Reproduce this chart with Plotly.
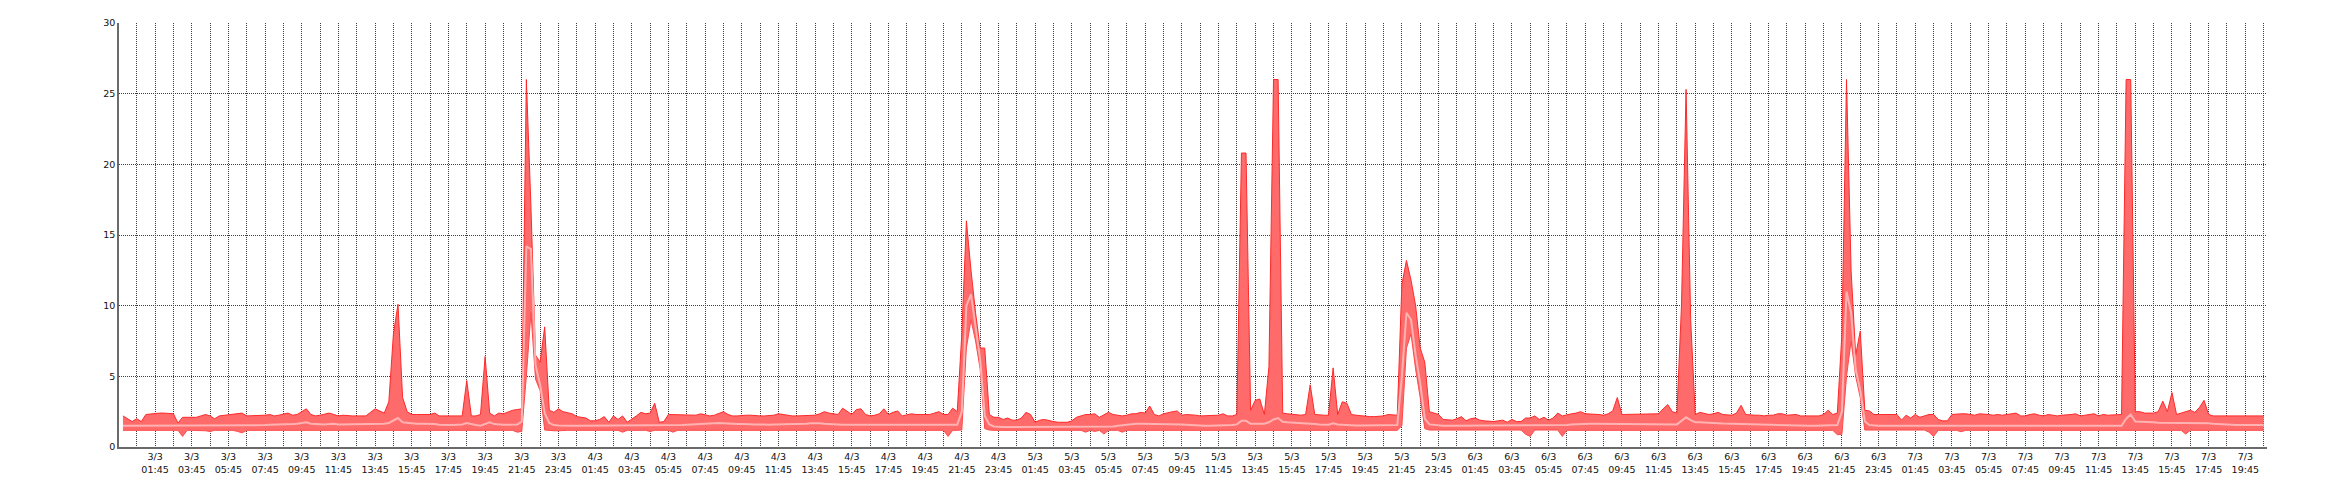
import pandas as pd
import plotly.graph_objects as go

# 15-minute samples from 3/3 00:00 to 7/3 20:45 (rows of 12 = 3 hours)
start_time = "2024-03-03 00:00"
n_points = 468

max_vals = [
    2.2, 2.0, 1.8, 2.0, 1.8, 2.3, 2.35, 2.35, 2.4, 2.4, 2.4, 2.35,
    1.7, 2.1, 2.1, 2.1, 2.1, 2.2, 2.3, 2.2, 2.0, 2.2, 2.25, 2.25,
    2.3, 2.35, 2.4, 2.2, 2.2, 2.2, 2.2, 2.25, 2.3, 2.2, 2.25, 2.3,
    2.4, 2.25, 2.3, 2.5, 2.7, 2.3, 2.2, 2.25, 2.3, 2.4, 2.3, 2.2,
    2.25, 2.2, 2.2, 2.2, 2.2, 2.2, 2.45, 2.7, 2.55, 2.4, 3.2, 8.0,
    10.1, 3.5, 2.5, 2.3, 2.3, 2.3, 2.3, 2.3, 2.4, 2.2, 2.2, 2.2,
    2.2, 2.2, 2.2, 4.7, 2.2, 2.2, 2.3, 6.4, 2.4, 2.2, 2.4, 2.35,
    2.5, 2.6, 2.65, 2.7, 26.0, 17.0, 6.5, 6.0, 8.5, 2.6, 2.45, 2.7,
    2.5, 2.45, 2.35, 2.15, 2.1, 2.05, 1.85, 1.85, 1.95, 2.15, 1.75, 2.2,
    1.95, 2.2, 1.75, 1.95, 2.2, 2.45, 2.35, 2.4, 3.1, 1.75, 1.8, 2.3,
    2.3, 2.3, 2.25, 2.25, 2.25, 2.25, 2.35, 2.3, 2.2, 2.25, 2.35, 2.5,
    2.3, 2.2, 2.2, 2.25, 2.25, 2.25, 2.2, 2.2, 2.2, 2.2, 2.25, 2.35,
    2.3, 2.2, 2.2, 2.2, 2.2, 2.2, 2.2, 2.25, 2.35, 2.5, 2.4, 2.35,
    2.3, 2.75, 2.5, 2.3, 2.65, 2.7, 2.3, 2.2, 2.25, 2.35, 2.7, 2.3,
    2.45, 2.55, 2.2, 2.3, 2.35, 2.3, 2.3, 2.3, 2.3, 2.4, 2.5, 2.3,
    2.3, 2.75, 2.5, 8.0, 16.0, 12.5, 9.5, 7.0, 7.0, 2.3, 2.1, 2.1,
    1.95, 2.05, 1.9, 1.9, 2.05, 2.45, 2.3, 1.75, 1.9, 1.95, 1.85, 1.8,
    1.75, 1.75, 1.75, 1.85, 2.1, 2.2, 2.3, 2.3, 2.35, 2.1, 2.3, 2.45,
    2.3, 2.25, 2.2, 2.25, 2.35, 2.35, 2.45, 2.4, 2.9, 2.3, 2.2, 2.35,
    2.45, 2.5, 2.55, 2.25, 2.3, 2.3, 2.25, 2.2, 2.2, 2.2, 2.2, 2.25,
    2.35, 2.2, 2.2, 2.3, 20.8, 20.8, 2.6, 3.3, 3.4, 2.3, 5.7, 26.0,
    26.0, 2.4, 2.35, 2.3, 2.25, 2.25, 2.3, 4.4, 2.3, 2.25, 2.25, 2.25,
    5.6, 2.3, 3.2, 3.1, 2.3, 2.25, 2.2, 2.2, 2.15, 2.15, 2.15, 2.2,
    2.3, 2.25, 2.25, 11.5, 13.2, 11.8, 10.0, 7.0, 6.0, 2.5, 2.4, 2.3,
    1.95, 1.9, 1.9, 2.0, 2.15, 1.85, 2.0, 2.05, 1.9, 1.85, 1.8, 1.8,
    1.85, 1.9, 1.75, 1.95, 1.8, 1.8, 2.05, 2.05, 2.2, 1.95, 2.1, 1.9,
    2.05, 2.4, 2.2, 2.3, 2.35, 2.4, 2.5, 2.35, 2.35, 2.35, 2.3, 2.25,
    2.35, 2.55, 3.5, 2.3, 2.3, 2.3, 2.3, 2.3, 2.3, 2.3, 2.3, 2.35,
    2.7, 3.0, 2.5, 2.4, 10.0, 25.3, 9.0, 2.3, 2.45, 2.35, 2.3, 2.35,
    2.45, 2.3, 2.3, 2.25, 2.4, 2.95, 2.3, 2.25, 2.25, 2.25, 2.2, 2.25,
    2.25, 2.35, 2.35, 2.25, 2.25, 2.3, 2.2, 2.2, 2.2, 2.2, 2.2, 2.3,
    2.6, 2.3, 2.4, 8.0, 26.0, 12.5, 6.5, 8.2, 2.6, 2.55, 2.3, 2.3,
    2.3, 2.35, 2.35, 2.3, 1.9, 2.25, 2.05, 2.3, 2.1, 2.2, 2.3, 2.3,
    1.95, 1.85, 1.85, 2.3, 2.35, 2.35, 2.35, 2.3, 2.25, 2.35, 2.35, 2.3,
    2.25, 2.3, 2.25, 2.3, 2.3, 2.4, 2.2, 2.2, 2.3, 2.35, 2.25, 2.2,
    2.3, 2.25, 2.2, 2.25, 2.25, 2.3, 2.35, 2.2, 2.25, 2.3, 2.35, 2.2,
    2.3, 2.25, 2.25, 2.25, 2.3, 26.0, 26.0, 2.5, 2.5, 2.4, 2.4, 2.4,
    2.5, 3.25, 2.5, 3.85, 2.3, 2.4, 2.5, 2.6, 2.45, 2.8, 3.3, 2.3,
    2.2, 2.2, 2.2, 2.2, 2.2, 2.2, 2.2, 2.2, 2.2, 2.2, 2.2, 2.2,
]

avg_vals = [
    1.5, 1.5, 1.5, 1.5, 1.5, 1.5, 1.5, 1.5, 1.5, 1.5, 1.5, 1.5,
    1.5, 1.5, 1.5, 1.5, 1.5, 1.5, 1.5, 1.5, 1.52, 1.55, 1.55, 1.55,
    1.55, 1.55, 1.55, 1.55, 1.55, 1.55, 1.55, 1.55, 1.58, 1.58, 1.6, 1.6,
    1.62, 1.62, 1.65, 1.7, 1.75, 1.65, 1.62, 1.6, 1.6, 1.62, 1.65, 1.6,
    1.6, 1.6, 1.6, 1.6, 1.6, 1.6, 1.62, 1.62, 1.6, 1.65, 1.7, 1.9,
    2.05, 1.75, 1.7, 1.68, 1.65, 1.65, 1.65, 1.65, 1.62, 1.58, 1.55, 1.55,
    1.55, 1.55, 1.6, 1.7, 1.6, 1.55, 1.5, 1.6, 1.75, 1.62, 1.58, 1.58,
    1.58, 1.58, 1.6, 1.8, 14.2, 14.0, 5.8, 4.4, 2.4, 1.7, 1.55, 1.52,
    1.5, 1.5, 1.5, 1.5, 1.5, 1.5, 1.5, 1.5, 1.5, 1.5, 1.5, 1.5,
    1.5, 1.5, 1.5, 1.5, 1.5, 1.5, 1.5, 1.5, 1.5, 1.5, 1.5, 1.5,
    1.5, 1.52, 1.55, 1.58, 1.6, 1.6, 1.62, 1.65, 1.65, 1.68, 1.7, 1.68,
    1.65, 1.62, 1.62, 1.62, 1.6, 1.6, 1.6, 1.6, 1.58, 1.58, 1.6, 1.6,
    1.6, 1.62, 1.62, 1.62, 1.62, 1.65, 1.68, 1.7, 1.68, 1.65, 1.62, 1.6,
    1.58, 1.58, 1.58, 1.58, 1.58, 1.58, 1.58, 1.58, 1.58, 1.58, 1.58, 1.58,
    1.58, 1.58, 1.58, 1.58, 1.58, 1.58, 1.58, 1.58, 1.58, 1.58, 1.58, 1.58,
    1.58, 1.58, 1.58, 2.5, 10.0, 10.8, 8.5, 6.2, 2.2, 1.6, 1.45, 1.42,
    1.42, 1.42, 1.42, 1.42, 1.42, 1.42, 1.42, 1.42, 1.42, 1.42, 1.42, 1.42,
    1.42, 1.42, 1.42, 1.42, 1.42, 1.42, 1.42, 1.42, 1.42, 1.42, 1.42, 1.42,
    1.45, 1.5, 1.55, 1.6, 1.62, 1.65, 1.65, 1.65, 1.65, 1.65, 1.65, 1.65,
    1.65, 1.65, 1.62, 1.6, 1.58, 1.55, 1.52, 1.5, 1.5, 1.5, 1.5, 1.5,
    1.5, 1.5, 1.55, 1.6, 1.85, 1.85, 1.65, 1.65, 1.65, 1.65, 1.75, 1.95,
    2.05, 1.78, 1.75, 1.72, 1.7, 1.68, 1.65, 1.65, 1.62, 1.6, 1.6, 1.58,
    1.68, 1.6, 1.58, 1.55, 1.55, 1.53, 1.53, 1.53, 1.53, 1.53, 1.53, 1.53,
    1.53, 1.55, 1.55, 5.0, 9.5, 9.0, 6.5, 4.5, 2.0, 1.6, 1.55, 1.55,
    1.5, 1.5, 1.5, 1.5, 1.5, 1.5, 1.5, 1.5, 1.5, 1.5, 1.5, 1.5,
    1.5, 1.5, 1.5, 1.5, 1.5, 1.5, 1.5, 1.5, 1.5, 1.5, 1.5, 1.5,
    1.5, 1.5, 1.5, 1.55, 1.6, 1.62, 1.65, 1.65, 1.65, 1.65, 1.65, 1.65,
    1.65, 1.65, 1.65, 1.65, 1.65, 1.65, 1.65, 1.65, 1.65, 1.65, 1.65, 1.65,
    1.65, 1.62, 1.6, 1.6, 1.85, 2.1, 1.9, 1.75, 1.75, 1.72, 1.7, 1.7,
    1.68, 1.66, 1.65, 1.64, 1.62, 1.6, 1.6, 1.58, 1.58, 1.58, 1.56, 1.56,
    1.55, 1.55, 1.53, 1.52, 1.5, 1.5, 1.5, 1.5, 1.5, 1.5, 1.5, 1.5,
    1.5, 1.5, 1.55, 2.5, 11.0, 9.5, 5.5, 4.0, 1.8, 1.55, 1.5, 1.5,
    1.5, 1.5, 1.5, 1.5, 1.5, 1.5, 1.5, 1.5, 1.5, 1.5, 1.5, 1.5,
    1.5, 1.5, 1.5, 1.5, 1.5, 1.5, 1.5, 1.5, 1.5, 1.5, 1.5, 1.5,
    1.5, 1.52, 1.55, 1.55, 1.55, 1.55, 1.55, 1.55, 1.55, 1.55, 1.55, 1.55,
    1.55, 1.55, 1.55, 1.55, 1.52, 1.5, 1.5, 1.5, 1.5, 1.5, 1.5, 1.5,
    1.5, 1.5, 1.5, 1.5, 1.5, 2.0, 2.3, 1.8, 1.8, 1.8, 1.78, 1.75,
    1.72, 1.72, 1.72, 1.72, 1.7, 1.7, 1.7, 1.7, 1.7, 1.7, 1.7, 1.68,
    1.65, 1.62, 1.6, 1.58, 1.56, 1.55, 1.55, 1.55, 1.55, 1.55, 1.55, 1.55,
]

min_vals = [
    1.18, 1.18, 1.18, 1.18, 1.18, 1.18, 1.18, 1.18, 1.18, 1.18, 1.18, 1.18,
    1.18, 0.75, 1.18, 1.18, 1.18, 1.18, 1.15, 1.1, 1.18, 1.18, 1.18, 1.18,
    1.18, 1.1, 1.0, 1.18, 1.18, 1.18, 1.18, 1.18, 1.18, 1.18, 1.18, 1.18,
    1.18, 1.18, 1.18, 1.18, 1.18, 1.18, 1.18, 1.18, 1.18, 1.18, 1.18, 1.18,
    1.18, 1.18, 1.18, 1.18, 1.18, 1.18, 1.18, 1.18, 1.18, 1.18, 1.18, 1.18,
    1.18, 1.18, 1.18, 1.18, 1.18, 1.18, 1.18, 1.18, 1.18, 1.18, 1.18, 1.18,
    1.18, 1.18, 1.18, 1.18, 1.18, 1.18, 1.18, 1.18, 1.18, 1.18, 1.18, 1.18,
    1.18, 1.18, 1.05, 1.1, 5.0, 9.5, 4.8, 4.0, 1.2, 1.15, 1.15, 1.15,
    1.18, 1.18, 1.18, 1.18, 1.18, 1.18, 1.18, 1.18, 1.18, 1.18, 1.18, 1.18,
    1.18, 1.05, 1.18, 1.18, 1.18, 1.18, 1.18, 1.1, 1.18, 1.18, 1.18, 1.18,
    1.05, 1.18, 1.18, 1.18, 1.18, 1.18, 1.18, 1.18, 1.18, 1.18, 1.18, 1.18,
    1.18, 1.18, 1.18, 1.18, 1.18, 1.18, 1.18, 1.18, 1.18, 1.18, 1.18, 1.18,
    1.18, 1.18, 1.18, 1.18, 1.18, 1.18, 1.18, 1.18, 1.18, 1.18, 1.18, 1.18,
    1.18, 1.18, 1.18, 1.18, 1.18, 1.18, 1.18, 1.18, 1.18, 1.18, 1.18, 1.18,
    1.18, 1.18, 1.18, 1.18, 1.18, 1.18, 1.18, 1.18, 1.18, 1.18, 1.18, 1.18,
    0.75, 1.18, 1.18, 1.2, 7.0, 9.0, 7.5, 5.5, 1.3, 1.2, 1.18, 1.18,
    1.18, 1.18, 1.18, 1.18, 1.18, 1.18, 1.18, 1.18, 1.18, 1.18, 1.18, 1.18,
    1.18, 1.18, 1.18, 1.18, 1.18, 1.18, 1.05, 1.18, 1.1, 1.18, 0.92, 1.18,
    1.18, 1.18, 1.05, 1.18, 1.18, 1.18, 1.18, 1.18, 1.18, 1.18, 1.18, 1.18,
    1.18, 1.18, 1.18, 1.18, 1.18, 1.18, 1.18, 1.18, 1.18, 1.18, 1.18, 1.18,
    1.18, 1.18, 1.18, 1.18, 1.18, 1.18, 1.18, 1.18, 1.18, 1.18, 1.18, 1.18,
    1.18, 1.18, 1.18, 1.18, 1.18, 1.18, 1.18, 1.18, 1.18, 1.18, 1.18, 1.18,
    1.18, 1.18, 1.18, 1.18, 1.18, 1.18, 1.18, 1.18, 1.18, 1.18, 1.18, 1.18,
    1.18, 1.18, 1.18, 1.5, 7.0, 8.0, 5.5, 3.5, 1.3, 1.2, 1.2, 1.2,
    1.2, 1.2, 1.2, 1.2, 1.2, 1.2, 1.2, 1.2, 1.2, 1.2, 1.2, 1.2,
    1.2, 1.2, 1.2, 1.2, 1.2, 1.2, 0.9, 0.75, 1.2, 1.2, 1.2, 1.2,
    1.2, 1.2, 0.75, 1.18, 1.18, 1.18, 1.18, 1.18, 1.18, 1.18, 1.18, 1.18,
    1.18, 1.18, 1.18, 1.18, 1.18, 1.18, 1.18, 1.18, 1.18, 1.18, 1.18, 1.18,
    1.18, 1.18, 1.18, 1.18, 1.18, 1.18, 1.18, 1.18, 1.18, 1.18, 1.18, 1.18,
    1.18, 1.18, 1.18, 1.18, 1.18, 1.18, 1.18, 1.18, 1.18, 1.18, 1.18, 1.18,
    1.18, 1.18, 1.18, 1.18, 1.18, 1.18, 1.18, 1.18, 1.18, 1.18, 1.18, 1.18,
    1.18, 1.18, 0.87, 0.9, 5.0, 7.5, 5.0, 3.5, 1.2, 1.2, 1.2, 1.2,
    1.2, 1.2, 1.2, 1.2, 1.2, 1.2, 1.2, 1.2, 1.2, 1.2, 1.05, 0.75,
    1.18, 1.18, 1.18, 1.18, 1.18, 1.08, 1.18, 1.18, 1.18, 1.18, 1.18, 1.18,
    1.18, 1.18, 1.18, 1.18, 1.18, 1.18, 1.18, 1.18, 1.18, 1.18, 1.18, 1.18,
    1.18, 1.18, 1.18, 1.18, 1.18, 1.18, 1.18, 1.18, 1.18, 1.18, 1.18, 1.18,
    1.18, 1.18, 1.18, 1.18, 1.18, 1.18, 1.18, 1.18, 1.18, 1.18, 1.18, 1.18,
    1.18, 1.18, 1.18, 1.18, 1.18, 1.18, 0.92, 1.18, 1.18, 1.18, 1.18, 1.18,
    1.18, 1.18, 1.18, 1.18, 1.18, 1.18, 1.18, 1.18, 1.18, 1.18, 1.18, 1.18,
]

y_tick_vals = [0, 5, 10, 15, 20, 25, 30]

times = pd.date_range(start_time, periods=n_points, freq="15min")

FONT = "DejaVu Sans"
GRID = "#3c3c3c"

fig = go.Figure()
fig.add_trace(go.Scatter(
    x=times, y=min_vals, mode="lines",
    line=dict(color="#ff4a4a", width=1), hoverinfo="skip", showlegend=False))
fig.add_trace(go.Scatter(
    x=times, y=max_vals, mode="lines", fill="tonexty",
    fillcolor="#ff6a6a", line=dict(color="#ff2a2a", width=1),
    showlegend=False))
fig.add_trace(go.Scatter(
    x=times, y=avg_vals, mode="lines",
    line=dict(color="#ffb2b2", width=2), showlegend=False))

fig.update_layout(
    width=2340, height=500,
    margin=dict(l=119, r=73, t=23, b=53),
    paper_bgcolor="white", plot_bgcolor="white",
    font=dict(family=FONT, size=10, color="#111"),
    showlegend=False,
)
fig.update_xaxes(
    type="date",
    range=["2024-03-02 23:47", "2024-03-07 20:56"],
    tickmode="linear", tick0="2024-03-03 01:45", dtick=2 * 3600000,
    tickformat="%-d/%-m<br>%H:%M",
    tickfont=dict(family=FONT, size=9.5, color="#111"),
    showgrid=True, gridcolor=GRID, griddash="1px,1px", gridwidth=1,
    minor=dict(tick0="2024-03-03 00:45", dtick=3600000, showgrid=True,
               gridcolor=GRID, griddash="1px,1px", gridwidth=1),
    showline=True, linecolor="#6a6a6a", linewidth=1.5,
    ticks="", zeroline=False,
)
fig.update_yaxes(
    range=[0, 30], tickmode="array", tickvals=y_tick_vals,
    tickfont=dict(family=FONT, size=9.5, color="#111"),
    showgrid=True, gridcolor=GRID, griddash="1px,1px", gridwidth=1,
    showline=True, linecolor="#6a6a6a", linewidth=1.5,
    ticks="", zeroline=False,
)

fig.write_html("out.html", config={"displayModeBar": False},
               post_script="document.body.style.margin='0';")
